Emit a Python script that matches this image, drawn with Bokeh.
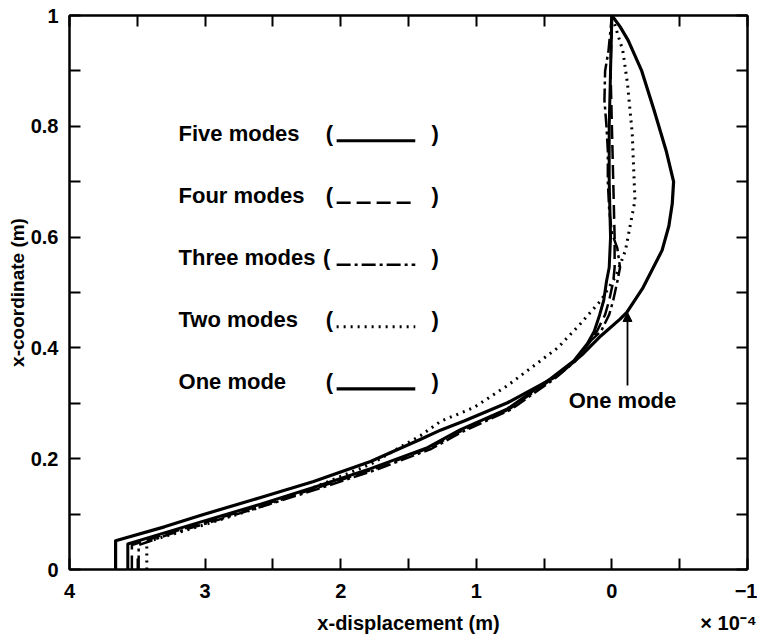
from bokeh.plotting import figure
from bokeh.models import Range1d, LinearAxis, FixedTicker, Label, Arrow, NormalHead
from bokeh.embed import file_html
from bokeh.resources import INLINE

# ---------------- data (x-displacement in 1e-4 m, x-coordinate in m) ----------------
ONE_X = [3.66, 3.66, 3.3, 3.03, 2.59, 2.2, 1.78, 1.41, 1.26, 1.09, 0.77, 0.40, 0.21, 0.08,
         -0.06, -0.11, -0.23, -0.37, -0.42, -0.445, -0.455, -0.40, -0.31, -0.22, -0.12, -0.06, 0.0]
ONE_Y = [0.0, 0.052, 0.077, 0.098, 0.13, 0.159, 0.195, 0.235, 0.252, 0.268, 0.301, 0.35, 0.39,
         0.422, 0.452, 0.464, 0.509, 0.576, 0.62, 0.66, 0.70, 0.756, 0.83, 0.90, 0.955, 0.98, 1.0]

TWO_X = [3.43, 3.43, 3.03, 2.6, 2.2, 1.78, 1.41, 1.26, 1.02, 0.77, 0.40, 0.23, 0.08, -0.03,
         -0.10, -0.17, -0.15, -0.115, -0.08, 0.0]
TWO_Y = [0.0, 0.05, 0.079, 0.112, 0.148, 0.19, 0.242, 0.268, 0.292, 0.332, 0.40, 0.444, 0.486,
         0.53, 0.576, 0.666, 0.787, 0.877, 0.937, 1.0]

THREE_X = [3.49, 3.49, 3.26, 2.98, 2.55, 2.16, 1.74, 1.33, 1.10, 0.75, 0.43, 0.27, 0.17, 0.08,
           0.02, -0.01, -0.04, -0.06, -0.04, 0.0, 0.02, 0.03, 0.03, 0.04, 0.055, 0.05, 0.025, 0.0]
THREE_Y = [0.0, 0.044, 0.064, 0.084, 0.116, 0.146, 0.18, 0.218, 0.249, 0.288, 0.343, 0.376, 0.41,
           0.43, 0.46, 0.486, 0.52, 0.545, 0.58, 0.607, 0.65, 0.70, 0.756, 0.80, 0.847, 0.90,
           0.937, 1.0]

FOUR_X = [3.54, 3.54, 3.28, 3.0, 2.57, 2.18, 1.76, 1.35, 1.11, 0.76, 0.44, 0.28, 0.17, 0.11,
          0.05, 0.02, -0.01, -0.02, -0.02, -0.01, 0.0, 0.01, 0.0]
FOUR_Y = [0.0, 0.044, 0.065, 0.085, 0.117, 0.147, 0.181, 0.219, 0.25, 0.289, 0.344, 0.376, 0.408,
          0.43, 0.46, 0.486, 0.52, 0.545, 0.60, 0.70, 0.80, 0.90, 1.0]

FIVE_X = [3.57, 3.57, 3.3, 3.03, 2.59, 2.2, 1.78, 1.36, 1.12, 0.77, 0.45, 0.28, 0.18, 0.13,
          0.09, 0.06, 0.04, 0.02, 0.01, 0.02, 0.02, 0.01, 0.0]
FIVE_Y = [0.0, 0.046, 0.066, 0.086, 0.118, 0.148, 0.182, 0.220, 0.252, 0.29, 0.345, 0.377, 0.408,
          0.43, 0.46, 0.486, 0.52, 0.545, 0.60, 0.70, 0.80, 0.90, 1.0]

SERIES_NAMES = ["Five modes", "Four modes", "Three modes", "Two modes", "One mode"]

X_TICKS = [4, 3, 2, 1, 0, -1]
X_TICK_LABELS = ["4", "3", "2", "1", "0", "\u22121"]
X_MINOR = [3.5, 2.5, 1.5, 0.5, -0.5]
Y_TICKS = [0, 0.2, 0.4, 0.6, 0.8, 1]
Y_TICK_LABELS = ["0", "0.2", "0.4", "0.6", "0.8", "1"]
Y_MINOR = [0.1, 0.3, 0.5, 0.7, 0.9]

X_LABEL = "x-displacement (m)"
Y_LABEL = "x-coordinate (m)"
SCALE_TEXT = "\u00d7 10\u207b\u2074"
ANNOT_TEXT = "One mode"

# positions (data units along x) of the texts in the row under the tick labels
X_LABEL_POS = 1.5
SCALE_POS = -0.86

# ---------------- styles ----------------
FONT = "Liberation Sans"
STYLES = {
    "Five modes": dict(line_width=3.0, line_dash="solid"),
    "Four modes": dict(line_width=2.5, line_dash="14 6"),
    "Three modes": dict(line_width=2.5, line_dash="14 4 3 4"),
    "Two modes": dict(line_width=3.0, line_dash="2 5"),
    "One mode": dict(line_width=3.2, line_dash="solid"),
}

p = figure(width=757, height=637, x_range=Range1d(4, -1), y_range=Range1d(0, 1),
           output_backend="svg", toolbar_location=None, tools="",
           min_border_left=69, min_border_right=10, min_border_top=15, min_border_bottom=68)
p.background_fill_color = "white"
p.border_fill_color = "white"
p.outline_line_color = "black"
p.outline_line_width = 2
p.xgrid.visible = False
p.ygrid.visible = False

data = {
    "Five modes": (FIVE_X, FIVE_Y),
    "Four modes": (FOUR_X, FOUR_Y),
    "Three modes": (THREE_X, THREE_Y),
    "Two modes": (TWO_X, TWO_Y),
    "One mode": (ONE_X, ONE_Y),
}
for name in SERIES_NAMES:
    xs, ys = data[name]
    p.line(xs, ys, line_color="black", line_join="round", **STYLES[name])

# axes
xt = FixedTicker(ticks=X_TICKS, minor_ticks=X_MINOR)
yt = FixedTicker(ticks=Y_TICKS, minor_ticks=Y_MINOR)


def style_axis(ax, labels=True):
    ax.axis_line_width = 2
    ax.axis_line_color = "black"
    ax.major_tick_in = 11
    ax.major_tick_out = 0
    ax.minor_tick_in = 11
    ax.minor_tick_out = 0
    ax.major_tick_line_width = 2
    ax.minor_tick_line_width = 2
    ax.major_tick_line_color = "black"
    ax.minor_tick_line_color = "black"
    if labels:
        ax.major_label_text_font = FONT
        ax.major_label_text_font_style = "bold"
        ax.major_label_text_font_size = "20px"
        ax.major_label_text_color = "black"
        ax.axis_label_text_font = FONT
        ax.axis_label_text_font_style = "bold"
        ax.axis_label_text_font_size = "19px"
        ax.axis_label_text_color = "black"
    else:
        ax.major_label_text_font_size = "0px"
        ax.major_label_standoff = 0


xa = p.xaxis[0]
xa.ticker = xt
xa.major_label_overrides = dict(zip(X_TICKS, X_TICK_LABELS))
style_axis(xa)
xa.major_label_standoff = 14

# second row under the x axis: axis title and the x 10^-4 multiplier
xa2 = LinearAxis(ticker=FixedTicker(ticks=[X_LABEL_POS, SCALE_POS], minor_ticks=[]))
xa2.major_label_overrides = {X_LABEL_POS: X_LABEL, SCALE_POS: SCALE_TEXT}
xa2.axis_line_color = None
xa2.major_tick_line_color = None
xa2.minor_tick_line_color = None
xa2.major_tick_in = 0
xa2.major_tick_out = 0
xa2.minor_tick_in = 0
xa2.minor_tick_out = 0
xa2.major_label_standoff = 11
xa2.major_label_text_font = FONT
xa2.major_label_text_font_style = "bold"
xa2.major_label_text_font_size = "20px"
xa2.major_label_text_color = "black"
p.add_layout(xa2, "below")

ya = p.yaxis[0]
ya.ticker = yt
ya.major_label_overrides = dict(zip(Y_TICKS, Y_TICK_LABELS))
ya.axis_label = Y_LABEL
style_axis(ya)
ya.major_label_standoff = 11
ya.axis_label_standoff = 0

top = LinearAxis(ticker=FixedTicker(ticks=X_TICKS, minor_ticks=X_MINOR))
top.major_label_overrides = {t: "" for t in X_TICKS}
style_axis(top, labels=False)
p.add_layout(top, "above")
right = LinearAxis(ticker=FixedTicker(ticks=Y_TICKS, minor_ticks=Y_MINOR))
right.major_label_overrides = {t: "" for t in Y_TICKS}
style_axis(right, labels=False)
p.add_layout(right, "right")

# ---------------- legend-like text block (layout in data units) ----------------
LEG_TEXT_X = 3.196
LEG_ROW_Y = [0.787, 0.675, 0.563, 0.451, 0.339]
LEG_OPEN_X = [2.11, 2.11, 2.13, 2.11, 2.11]
LEG_LINE_X0, LEG_LINE_X1 = 2.03, 1.45
LEG_CLOSE_X = 1.33
LEG_LINE_DY = -0.013

for name, ry, ox in zip(SERIES_NAMES, LEG_ROW_Y, LEG_OPEN_X):
    for txt, tx in ((name, LEG_TEXT_X), ("(", ox), (")", LEG_CLOSE_X)):
        p.add_layout(Label(x=tx, y=ry, text=txt, text_font=FONT, text_font_style="bold",
                           text_font_size="22px", text_baseline="middle", text_align="left",
                           text_color="black"))
    p.line([LEG_LINE_X0, LEG_LINE_X1], [ry + LEG_LINE_DY, ry + LEG_LINE_DY],
           line_color="black", **STYLES[name])

# ---------------- "One mode" annotation with arrow ----------------
ANN_X = -0.115
ANN_TIP_Y = 0.464
ANN_TAIL_Y = 0.332
p.add_layout(Arrow(end=NormalHead(size=9, fill_color="black", line_color="black", line_width=1),
                   x_start=ANN_X, y_start=ANN_TAIL_Y, x_end=ANN_X, y_end=ANN_TIP_Y,
                   line_width=1.8, line_color="black"))
p.add_layout(Label(x=-0.078, y=0.305, text=ANNOT_TEXT, text_font=FONT, text_font_style="bold",
                   text_font_size="22px", text_baseline="middle", text_align="center",
                   text_color="black"))

open("out.html", "w").write(file_html(p, INLINE))
